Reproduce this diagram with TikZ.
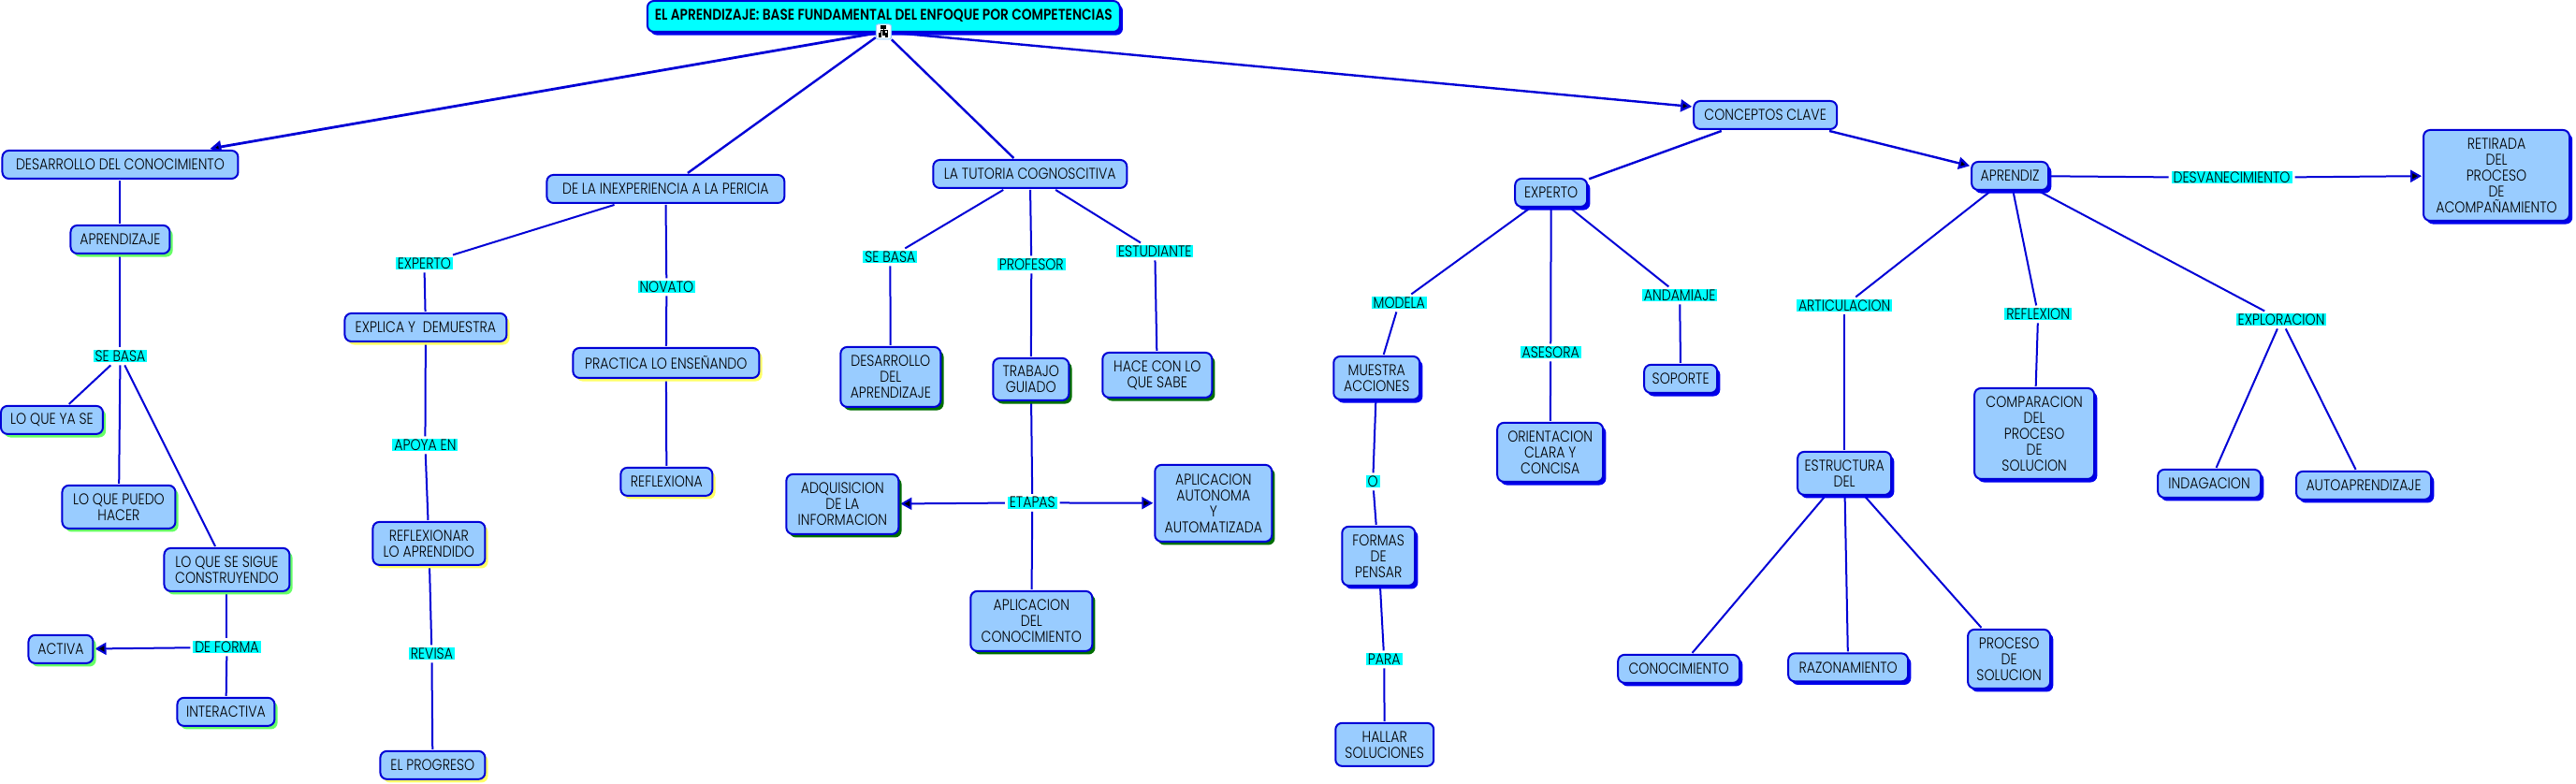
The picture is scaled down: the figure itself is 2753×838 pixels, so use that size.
\documentclass[tikz,border=0pt]{standalone}
\usepackage{fontspec}
\setmainfont[FakeStretch=0.85]{Poppins Light}
\newfontfamily\titlefont[FakeStretch=0.84]{Poppins SemiBold}
\usetikzlibrary{shadows,arrows.meta}
\definecolor{linkblue}{HTML}{0000D6}
\definecolor{boxblue}{HTML}{99CCFF}
\definecolor{boxcyan}{HTML}{00FFFF}
\definecolor{shadegreen}{HTML}{66FF66}
\definecolor{shadeyellow}{HTML}{FFFF66}
\definecolor{shadedark}{HTML}{006E00}
\definecolor{shadeblue}{HTML}{0000EE}
\pgfdeclarelayer{edgelayer}
\pgfsetlayers{edgelayer,main}
\tikzset{boxsize/.style 2 args={minimum width=#1*0.5pt,minimum height=#2*0.5pt}}
\begin{document}
\begin{tikzpicture}[x=0.5pt,y=-0.5pt]
        \tikzstyle{concept}=[rectangle,rounded corners=3.5pt,draw=linkblue,line width=1pt,fill=boxblue,inner sep=0pt,outer sep=1pt,align=center,font=\fontsize{8.3}{8.55}\selectfont]
        \tikzstyle{greenbox}=[concept,general shadow={fill=shadegreen,shadow xshift=1.6pt,shadow yshift=-1.8pt}]
        \tikzstyle{yellowbox}=[concept,general shadow={fill=shadeyellow,shadow xshift=1.6pt,shadow yshift=-1.8pt}]
        \tikzstyle{darkbox}=[concept,general shadow={fill=shadedark,shadow xshift=1.6pt,shadow yshift=-1.8pt}]
        \tikzstyle{bluebox}=[concept,general shadow={fill=shadeblue,shadow xshift=1.6pt,shadow yshift=-1.8pt}]
        \tikzstyle{link}=[rectangle,fill=boxcyan,inner xsep=1pt,inner ysep=0.3pt,outer sep=1.5pt,text height=5.7pt,text depth=0.2pt,font=\fontsize{8.3}{8.55}\selectfont]
        \tikzstyle{edge}=[draw=linkblue,line width=1pt]
        \tikzstyle{arrowedge}=[edge,-{Triangle[length=6pt,width=6.5pt]}]

        \node [bluebox,fill=boxcyan,boxsize={505}{33},text depth=1.4pt,font=\fontsize{8.2}{8.55}\titlefont] (title) at (944,17.5) {EL APRENDIZAJE: BASE FUNDAMENTAL DEL ENFOQUE POR COMPETENCIAS};
        \node [rectangle,rounded corners=1pt,draw=boxblue,line width=0.5pt,fill=white,minimum size=8pt,inner sep=0pt] (icon) at (944,34) {};
        \fill (941,27) rectangle (947,31);
        \fill (939,35) rectangle (942,40);
        \fill (942.5,33) rectangle (945.5,38);
        \fill (946,35) rectangle (949,40);
        \draw [line width=0.3pt] (944,31) -- (944,33) (940.5,35) -- (940.5,32) -- (947.5,32) -- (947.5,35);

        \node [concept,boxsize={252}{30}] (desarrollo) at (128,176) {DESARROLLO DEL CONOCIMIENTO};
        \node [concept,boxsize={254}{30}] (inexperiencia) at (711,202) {DE LA INEXPERIENCIA A LA PERICIA};
        \node [concept,boxsize={207}{30}] (tutoria) at (1100.5,186) {LA TUTORIA COGNOSCITIVA};
        \node [concept,boxsize={153}{30}] (conceptos) at (1886.5,123) {CONCEPTOS CLAVE};

        \node [greenbox,boxsize={106}{30}] (aprendizaje) at (128,256) {APRENDIZAJE};
        \node [link] (sebasa) at (128,381) {SE BASA};
        \node [greenbox,boxsize={109}{30}] (yase) at (55,449) {LO QUE YA SE};
        \node [greenbox,boxsize={121}{46}] (puedo) at (126.5,542) {LO QUE PUEDO\\HACER};
        \node [greenbox,boxsize={134}{46}] (sigue) at (242,609) {LO QUE SE SIGUE\\CONSTRUYENDO};
        \node [link] (deforma) at (242,692) {DE FORMA};
        \node [greenbox,boxsize={69}{30}] (activa) at (64.5,694) {ACTIVA};
        \node [greenbox,boxsize={104}{30}] (interactiva) at (241,761) {INTERACTIVA};

        \node [link] (lexperto) at (453,282) {EXPERTO};
        \node [yellowbox,boxsize={173}{30}] (explica) at (454.5,350) {EXPLICA Y\ \ DEMUESTRA};
        \node [link] (apoya) at (454,476) {APOYA EN};
        \node [yellowbox,boxsize={120}{46}] (reflexionar) at (458,581) {REFLEXIONAR\\LO APRENDIDO};
        \node [link] (revisa) at (461,699) {REVISA};
        \node [yellowbox,boxsize={112}{30}] (progreso) at (462,818) {EL PROGRESO};
        \node [link] (novato) at (712,307) {NOVATO};
        \node [yellowbox,boxsize={199}{32}] (practica) at (711.5,388) {PRACTICA LO ENSEÑANDO};
        \node [yellowbox,boxsize={98}{30}] (reflexiona) at (712,515) {REFLEXIONA};

        \node [link] (sebasatut) at (951,275) {SE BASA};
        \node [darkbox,boxsize={107}{64}] (desaprendizaje) at (951.5,403) {DESARROLLO\\DEL\\APRENDIZAJE};
        \node [link] (profesor) at (1102,283) {PROFESOR};
        \node [darkbox,boxsize={81}{45}] (trabajo) at (1101.5,405.5) {TRABAJO\\GUIADO};
        \node [link] (estudiante) at (1234,269) {ESTUDIANTE};
        \node [darkbox,boxsize={117}{48}] (hace) at (1236.5,401) {HACE CON LO\\QUE SABE};
        \node [link] (etapas) at (1103,537.5) {ETAPAS};
        \node [darkbox,boxsize={120}{64}] (adquisicion) at (900,539) {ADQUISICION\\DE LA\\INFORMACION};
        \node [darkbox,boxsize={125}{82}] (autonoma) at (1296.5,538) {APLICACION\\AUTONOMA\\Y\\AUTOMATIZADA};
        \node [darkbox,boxsize={130}{64}] (aplicacion) at (1102,664) {APLICACION\\DEL\\CONOCIMIENTO};

        \node [bluebox,boxsize={77}{30}] (experto) at (1657.5,206) {EXPERTO};
        \node [link] (modela) at (1495,324) {MODELA};
        \node [bluebox,boxsize={92}{46}] (muestra) at (1471,404) {MUESTRA\\ACCIONES};
        \node [link] (ol) at (1467,515) {O};
        \node [bluebox,boxsize={78}{63}] (formas) at (1473,594.5) {FORMAS\\DE\\PENSAR};
        \node [link] (para) at (1479,705) {PARA};
        \node [concept,boxsize={105}{46}] (hallar) at (1479.5,796) {HALLAR\\SOLUCIONES};
        \node [link] (asesora) at (1657,377) {ASESORA};
        \node [bluebox,boxsize={113}{63}] (orientacion) at (1656.5,483.5) {ORIENTACION\\CLARA Y\\CONCISA};
        \node [link] (andamiaje) at (1795,316) {ANDAMIAJE};
        \node [bluebox,boxsize={78}{30}] (soporte) at (1796,405) {SOPORTE};

        \node [bluebox,boxsize={82}{30}] (aprendiz) at (2148,188) {APRENDIZ};
        \node [link] (articulacion) at (1971,327) {ARTICULACION};
        \node [bluebox,boxsize={100}{46}] (estructura) at (1971,506) {ESTRUCTURA\\DEL};
        \node [bluebox,boxsize={130}{30}] (conocimiento) at (1794,715) {CONOCIMIENTO};
        \node [bluebox,boxsize={128}{30}] (razonamiento) at (1975,713.5) {RAZONAMIENTO};
        \node [bluebox,boxsize={88}{63}] (proceso) at (2147,704.5) {PROCESO\\DE\\SOLUCION};
        \node [link] (reflexion) at (2178,336) {REFLEXION};
        \node [bluebox,boxsize={128}{97}] (comparacion) at (2174,463.5) {COMPARACION\\DEL\\PROCESO\\DE\\SOLUCION};
        \node [link] (exploracion) at (2438,342) {EXPLORACION};
        \node [bluebox,boxsize={110}{30}] (indagacion) at (2361,517) {INDAGACION};
        \node [bluebox,boxsize={144}{30}] (autoaprendizaje) at (2526,519) {AUTOAPRENDIZAJE};
        \node [link] (desvanecimiento) at (2385,190) {DESVANECIMIENTO};
        \node [bluebox,boxsize={156}{97}] (retirada) at (2668,187.5) {RETIRADA\\DEL\\PROCESO\\DE\\ACOMPAÑAMIENTO};

        \begin{pgfonlayer}{edgelayer}
        \path[arrowedge,line width=1.4pt] (icon) edge ([xshift=48pt]desarrollo.north);
        \path[edge,line width=1.2pt] (icon) edge (inexperiencia);
        \path[edge,line width=1.2pt] (icon) edge (tutoria);
        \path[arrowedge,line width=1.2pt] (icon) edge ([yshift=4.5pt]conceptos.west);

        \path[edge] (desarrollo) edge (aprendizaje);
        \path[edge] (aprendizaje) edge (sebasa);
        \path[edge] (sebasa) edge (yase);
        \path[edge] (sebasa) edge (puedo);
        \path[edge] (sebasa) edge (sigue);
        \path[edge] (sigue) edge (deforma);
        \path[arrowedge] (deforma) edge (activa);
        \path[edge] (deforma) edge (interactiva);

        \path[edge] (inexperiencia) edge (lexperto);
        \path[edge] (lexperto) edge (explica);
        \path[edge] (explica) edge (apoya);
        \path[edge] (apoya) edge (reflexionar);
        \path[edge] (reflexionar) edge (revisa);
        \path[edge] (revisa) edge (progreso);
        \path[edge] (inexperiencia) edge (novato);
        \path[edge] (novato) edge (practica);
        \path[edge] (practica) edge (reflexiona);

        \path[edge] (tutoria) edge (sebasatut);
        \path[edge] (sebasatut) edge (desaprendizaje);
        \path[edge] (tutoria) edge (profesor);
        \path[edge] (profesor) edge (trabajo);
        \path[edge] (tutoria) edge (estudiante);
        \path[edge] (estudiante) edge (hace);
        \path[edge] (trabajo) edge (etapas);
        \path[arrowedge] (etapas) edge (adquisicion);
        \path[arrowedge] (etapas) edge (autonoma);
        \path[edge] (etapas) edge (aplicacion);

        \path[edge,line width=1.2pt] (conceptos) edge (experto);
        \path[arrowedge,line width=1.2pt] (conceptos) edge (aprendiz);
        \path[edge] (experto) edge (modela);
        \path[edge] (modela) edge (muestra);
        \path[edge] (muestra) edge (ol);
        \path[edge] (ol) edge (formas);
        \path[edge] (formas) edge (para);
        \path[edge] (para) edge (hallar);
        \path[edge] (experto) edge (asesora);
        \path[edge] (asesora) edge (orientacion);
        \path[edge] (experto) edge (andamiaje);
        \path[edge] (andamiaje) edge (soporte);

        \path[edge] (aprendiz) edge (articulacion);
        \path[edge] (articulacion) edge (estructura);
        \path[edge] (estructura) edge (conocimiento);
        \path[edge] (estructura) edge (razonamiento);
        \path[edge] (estructura) edge (proceso);
        \path[edge] (aprendiz) edge (reflexion);
        \path[edge] (reflexion) edge (comparacion);
        \path[edge] (aprendiz) edge (exploracion);
        \path[edge] (exploracion) edge (indagacion);
        \path[edge] (exploracion) edge (autoaprendizaje);
        \path[edge] (aprendiz) edge (desvanecimiento);
        \path[arrowedge] (desvanecimiento) edge (retirada);
        \end{pgfonlayer}

        \useasboundingbox (0,0) rectangle (2753,838);
\end{tikzpicture}
\end{document}
